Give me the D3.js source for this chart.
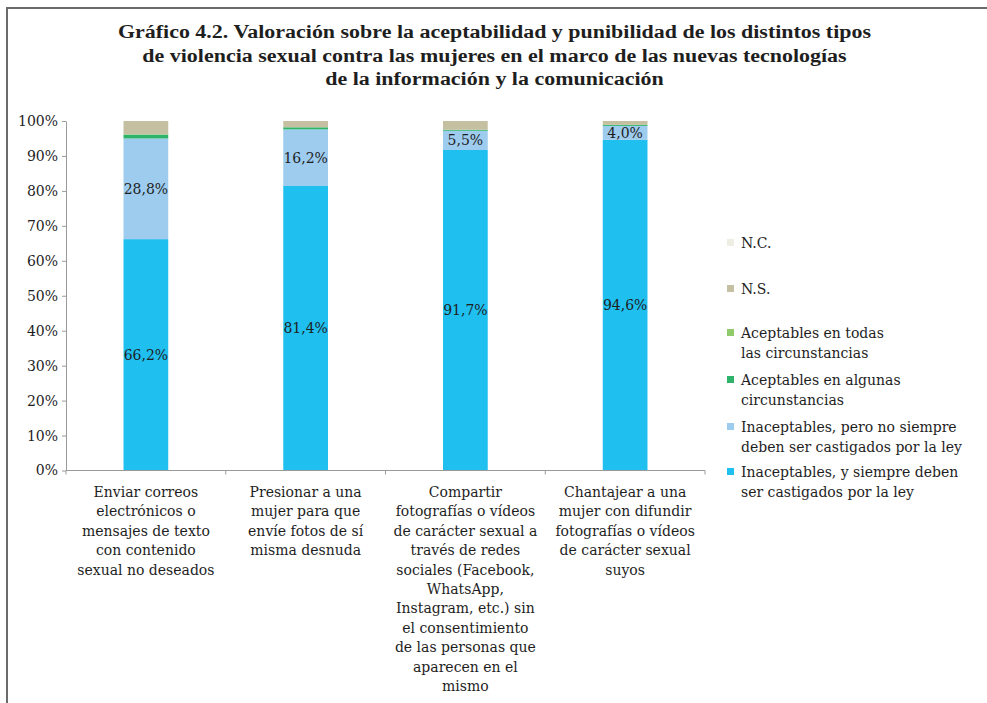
<!DOCTYPE html>
<html>
<head>
<meta charset="utf-8">
<script src="https://cdn.jsdelivr.net/npm/d3@7"></script>
<style>
  body { margin: 0; background: #fff; }
  svg text { fill: #1e1e1e; }
</style>
</head>
<body>
<div id="chart"></div>
<script>
// categories (line breaks as in the original)
const categories = [
  ["Enviar correos", "electrónicos o", "mensajes de texto", "con contenido", "sexual no deseados"],
  ["Presionar a una", "mujer para que", "envíe fotos de sí", "misma desnuda"],
  ["Compartir", "fotografías o vídeos", "de carácter sexual a", "través de redes", "sociales (Facebook,", "WhatsApp,", "Instagram, etc.) sin", "el consentimiento", "de las personas que", "aparecen en el", "mismo"],
  ["Chantajear a una", "mujer con difundir", "fotografías o vídeos", "de carácter sexual", "suyos"]
];

// series values (%), bottom to top
const siempre   = [66.2, 81.4, 91.7, 94.6];
const noSiempre = [28.8, 16.2, 5.5, 4.0];
const algunas   = [1.1, 0.6, 0.3, 0.3];
const todas     = [0.1, 0.0, 0.0, 0.0];
const ns        = [3.8, 1.8, 2.5, 1.1];
const nc        = [0.0, 0.0, 0.0, 0.0];

const seriesNames = [
  ["Inaceptables, y siempre deben", "ser castigados por la ley"],
  ["Inaceptables, pero no siempre", "deben ser castigados por la ley"],
  ["Aceptables en algunas", "circunstancias"],
  ["Aceptables en todas", "las circunstancias"],
  ["N.S."],
  ["N.C."]
];
const seriesValues = [siempre, noSiempre, algunas, todas, ns, nc];
const colors = ["#1fbff0", "#9dccee", "#2eb46a", "#8fcb6b", "#c5c0a2", "#eeeee5"];
const labelled = [true, true, false, false, false, false];

const yTicks = [0, 10, 20, 30, 40, 50, 60, 70, 80, 90, 100];

const width = 987, height = 703;
const svg = d3.select("#chart").append("svg")
  .attr("width", width)
  .attr("height", height);

// frame (left and top)
svg.append("path")
  .attr("d", "M7,703 V8 H987")
  .attr("fill", "none")
  .attr("stroke", "#6b6b6b")
  .attr("stroke-width", 2);

// title (condensed bold serif in the original: stretch to its width)
const titleLines = [
  "Gráfico 4.2. Valoración sobre la aceptabilidad y punibilidad de los distintos tipos",
  "de violencia sexual contra las mujeres en el marco de las nuevas tecnologías",
  "de la información y la comunicación"
];
svg.append("g").selectAll("text")
  .data(titleLines)
  .enter().append("text")
  .attr("x", 494.5)
  .attr("y", (d, i) => 38 + i * 23.5)
  .attr("text-anchor", "middle")
  .style("font-family", "'Liberation Serif', serif")
  .style("font-weight", "bold")
  .style("font-size", "18px")
  .text(d => d)
  .each(function() {
    const w = this.getComputedTextLength();
    d3.select(this)
      .attr("textLength", w * 1.22)
      .attr("lengthAdjust", "spacingAndGlyphs");
  });

// scales
const x = d3.scaleBand()
  .domain(d3.range(categories.length))
  .range([66, 705])
  .paddingInner(0.72)
  .paddingOuter(0.36);

const y = d3.scaleLinear()
  .domain([0, 100])
  .range([470.5, 121]);

// stacked data
const rows = categories.map((c, i) => {
  const r = { i };
  seriesValues.forEach((s, k) => { r[k] = s[i]; });
  return r;
});
const stack = d3.stack().keys(d3.range(seriesValues.length));
const stacked = stack(rows);

const layers = svg.append("g").selectAll("g")
  .data(stacked)
  .enter().append("g")
  .attr("fill", (d, k) => colors[k]);

layers.selectAll("rect")
  .data(d => d)
  .enter().append("rect")
  .attr("x", d => x(d.data.i))
  .attr("y", d => y(d[1]))
  .attr("width", x.bandwidth())
  .attr("height", d => y(d[0]) - y(d[1]));

// value labels
stacked.forEach((layer, k) => {
  if (!labelled[k]) return;
  svg.append("g").selectAll("text")
    .data(layer)
    .enter().append("text")
    .attr("x", d => x(d.data.i) + x.bandwidth() / 2)
    .attr("y", d => y((d[0] + d[1]) / 2) + 5)
    .attr("text-anchor", "middle")
    .style("font-family", "'DejaVu Serif', serif")
    .style("font-size", "14px")
    .text(d => (d[1] - d[0]).toFixed(1).replace(".", ",") + "%");
});

// y axis
const yAxis = svg.append("g")
  .attr("transform", "translate(66,0)")
  .call(d3.axisLeft(y).tickValues(yTicks).tickFormat(d => d + "%").tickSize(4).tickSizeOuter(0));
yAxis.select(".domain").attr("stroke", "#9a9a9a");
yAxis.selectAll(".tick line").attr("stroke", "#9a9a9a");
yAxis.selectAll(".tick text")
  .attr("x", -8)
  .style("font-family", "'DejaVu Serif', serif")
  .style("font-size", "14px")
  .style("fill", "#1e1e1e");

// x axis line with boundary ticks
const xBase = svg.append("g").attr("transform", "translate(0,470.5)");
xBase.append("line")
  .attr("x1", 66).attr("x2", 705)
  .attr("stroke", "#9a9a9a");
xBase.selectAll(".bt")
  .data(d3.range(categories.length + 1))
  .enter().append("line")
  .attr("x1", i => 66 + i * x.step())
  .attr("x2", i => 66 + i * x.step())
  .attr("y1", 0).attr("y2", 4)
  .attr("stroke", "#9a9a9a");

// category labels
const catG = svg.append("g").selectAll("text")
  .data(categories)
  .enter().append("text")
  .attr("text-anchor", "middle")
  .style("font-family", "'DejaVu Serif', serif")
  .style("font-size", "14px");
catG.selectAll("tspan")
  .data((d, i) => d.map(line => ({ line, i })))
  .enter().append("tspan")
  .attr("x", d => x(d.i) + x.bandwidth() / 2)
  .attr("y", (d, j) => 497 + j * 19.4)
  .text(d => d.line);

// legend (top to bottom: reverse of stack)
const legendY = [248, 294, 338, 385, 432, 477];
const legendOrder = [5, 4, 3, 2, 1, 0];
const leg = svg.append("g").selectAll("g")
  .data(legendOrder)
  .enter().append("g")
  .attr("transform", (k, i) => `translate(727,${legendY[i]})`);
leg.append("rect")
  .attr("x", 0).attr("y", -9)
  .attr("width", 7).attr("height", 7)
  .attr("fill", k => colors[k]);
leg.append("text")
  .style("font-family", "'DejaVu Serif', serif")
  .style("font-size", "14px")
  .selectAll("tspan")
  .data(k => seriesNames[k])
  .enter().append("tspan")
  .attr("x", 14)
  .attr("y", (d, j) => j * 20)
  .text(d => d);
</script>
</body>
</html>
